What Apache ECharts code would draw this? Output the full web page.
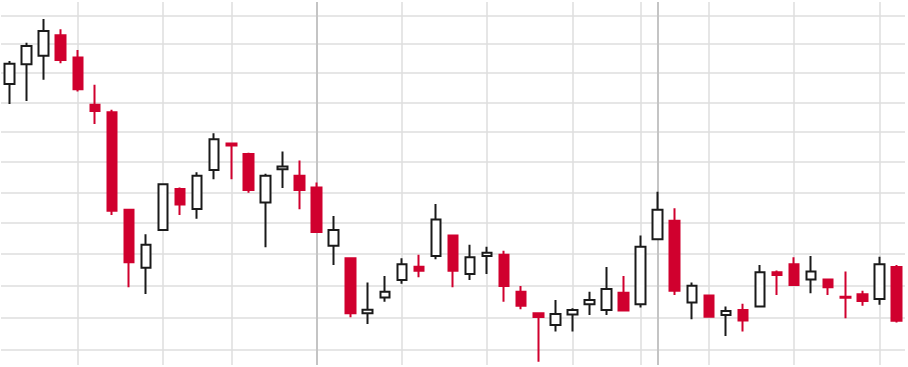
<!DOCTYPE html>
<html>
<head>
<meta charset="utf-8">
<script src="https://cdn.jsdelivr.net/npm/echarts@6/dist/echarts.min.js"></script>
<style>
html,body{margin:0;padding:0;background:#fff;}
#chart{width:908px;height:367px;}
</style>
</head>
<body>
<div id="chart"></div>
<script>
// Trading sessions (category axis, labels hidden in the reference)
const categories = Array.from({length: 53}, (_, i) => 'S' + (i + 1));

// OHLC values
const opens  = [84.63,85.31,85.60,86.31,85.54,83.92,83.67,80.43,78.57,79.78,81.11,80.46,81.74,82.62,82.27,80.67,81.76,81.55,81.16,79.27,78.87,77.14,77.63,78.18,78.60,78.94,79.60,78.37,78.94,78.98,77.81,77.14,76.77,77.10,77.42,77.24,77.78,77.42,79.48,80.08,77.47,77.69,77.08,77.24,77.35,78.43,78.68,78.20,78.20,77.65,77.73,77.58,78.59];
const closes = [85.32,85.94,86.46,85.45,84.45,83.71,80.40,78.74,79.30,81.27,80.60,81.55,82.76,82.55,81.08,81.55,81.85,81.08,79.71,79.78,77.14,77.25,77.81,78.68,78.47,80.12,78.47,78.90,79.05,77.99,77.37,77.02,77.11,77.24,77.55,77.90,77.22,79.24,80.43,77.84,78.00,77.03,77.21,76.91,78.43,78.34,78.02,78.45,77.95,77.62,77.52,78.68,76.90];
const lows   = [83.95,84.05,84.77,85.34,84.37,83.27,80.26,77.95,77.74,79.76,80.26,80.14,81.43,81.43,80.99,79.22,81.14,80.45,79.68,78.66,77.01,76.80,77.50,78.06,78.27,78.84,77.95,78.18,78.37,77.50,77.26,75.64,76.57,76.57,77.08,77.08,77.19,77.32,79.46,77.71,76.95,77.00,76.43,76.57,77.33,77.71,77.99,77.76,77.71,76.98,77.37,77.40,76.85];
const highs  = [85.42,86.05,86.88,86.52,85.80,84.60,83.75,80.43,79.64,81.30,81.16,81.66,82.96,82.63,82.31,81.61,82.35,82.05,81.32,80.23,78.90,78.10,78.31,78.87,78.98,80.62,79.62,79.30,79.24,79.11,77.99,77.16,77.55,77.29,77.81,78.59,78.31,79.60,81.02,80.48,78.10,77.71,77.35,77.43,78.66,78.48,78.90,78.94,78.21,78.45,77.84,78.92,78.66];

// Horizontal grid levels and vertical week / month separators (category indices)
const gridLevels = [76,77,78,79,80,81,82,83,84,85,86,87];
const weekLines = [4,9,13,23,28,33,37,41,46,51];
const monthLines = [18,38];

const yMin = 75.54, yMax = 87.48;

const ohlc = categories.map((c, i) => [opens[i], closes[i], lows[i], highs[i]]);

const RED = '#d0002e';
const INK = '#1a1a1a';

const chart = echarts.init(document.getElementById('chart'), null, {renderer: 'canvas'});
chart.setOption({
  animation: false,
  backgroundColor: '#ffffff',
  grid: {left: 1, right: 3, top: 2, bottom: 2, containLabel: false},
  xAxis: {
    type: 'category',
    data: categories,
    boundaryGap: true,
    axisLine: {show: false},
    axisTick: {show: false},
    axisLabel: {show: false},
    splitLine: {show: false}
  },
  yAxis: {
    type: 'log',
    logBase: 10,
    min: yMin,
    max: yMax,
    axisLine: {show: false},
    axisTick: {show: false},
    axisLabel: {show: false},
    splitLine: {show: false}
  },
  series: [
    {
      type: 'line',
      data: [],
      silent: true,
      z: 1,
      markLine: {
        silent: true,
        symbol: ['none', 'none'],
        label: {show: false},
        animation: false,
        z: 1,
        lineStyle: {type: 'solid', color: '#dedede', width: 1.5},
        data: [
          ...gridLevels.map(v => ({yAxis: v})),
          ...weekLines.map(i => ({xAxis: i})),
          ...monthLines.map(i => ({xAxis: i, lineStyle: {color: '#c4c4c4', width: 2, type: 'solid'}}))
        ]
      }
    },
    {
      type: 'candlestick',
      data: ohlc,
      z: 3,
      barWidth: 10,
      itemStyle: {
        color: '#ffffff',
        color0: RED,
        borderColor: INK,
        borderColor0: RED,
        borderWidth: 2
      }
    }
  ]
});
</script>
</body>
</html>
